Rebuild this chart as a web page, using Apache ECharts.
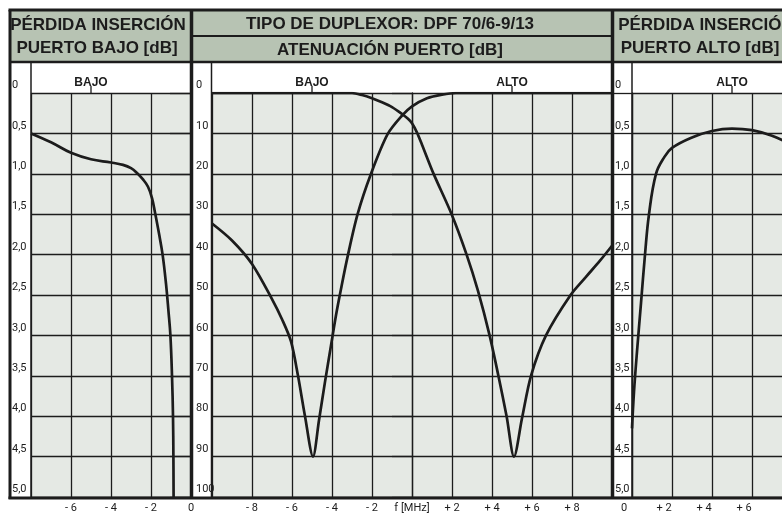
<!DOCTYPE html>
<html><head><meta charset="utf-8">
<script src="https://cdn.jsdelivr.net/npm/echarts@6/dist/echarts.min.js"></script>
<style>html,body{margin:0;padding:0;background:#fff}#c{width:782px;height:518px}</style>
</head><body><div id="c"></div>
<script>
// ---- data ----
const lowLossFreq = [-8, -7, -6, -5, -4, -3.4, -3.0, -2.7, -2.4, -2.15, -1.95, -1.8, -1.6, -1.42, -1.25, -1.13, -1.03, -0.95, -0.9, -0.88, -0.87];
const lowLossDb   = [0.5, 0.61, 0.74, 0.82, 0.86, 0.89, 0.93, 0.99, 1.07, 1.16, 1.3, 1.48, 1.74, 2.0, 2.36, 2.69, 3.0, 3.5, 4.0, 4.5, 5.0];

const attBajoFreq = [-10, -9, -8, -7, -6.5, -6.05, -5.7, -5.35, -4.95, -4.65, -4.35, -4.05, -3.8, -3.55, -3.22, -2.72, -2.05, -1.22, -0.5, 0, 0.75, 1.5, 2.2, 10];
const attBajoDb   = [32.3, 36.5, 42.3, 51, 56, 61.5, 70, 80, 90, 81, 71.5, 62.5, 55, 48.5, 40.5, 30, 20, 10.2, 5.6, 3.3, 1.3, 0.4, 0, 0];

const attAltoFreq = [-10, -3.0, -2.5, -2.0, -1.5, -1.0, -0.5, -0.2, 0, 0.25, 0.5, 1.07, 1.98, 2.73, 3.3, 3.88, 4.32, 4.73, 5.1, 5.5, 5.95, 6.7, 7.93, 8.7, 9.4, 10];
const attAltoDb   = [0, 0, 0.5, 1.3, 2.3, 3.5, 5.2, 6.4, 7.5, 9.8, 12.8, 19.9, 30, 40, 49, 60, 70, 80, 90, 80.5, 70, 60, 50, 45.5, 41.5, 37.8];

const highLossFreq = [0, 0.1, 0.25, 0.45, 0.65, 0.85, 1.2, 1.6, 2, 3, 4, 5, 6, 7, 8];
const highLossDb   = [4.15, 3.7, 3.2, 2.6, 2.0, 1.5, 1.0, 0.8, 0.68, 0.55, 0.47, 0.44, 0.46, 0.53, 0.64];

const lossTickLabels = ['0', '0,5', '1,0', '1,5', '2,0', '2,5', '3,0', '3,5', '4,0', '4,5', '5,0'];
const attTickLabels  = ['0', '10', '20', '30', '40', '50', '60', '70', '80', '90', '100'];
const leftFreqLabels   = {'-6': '- 6', '-4': '- 4', '-2': '- 2', '0': '0'};
const middleFreqLabels = {'-8': '- 8', '-6': '- 6', '-4': '- 4', '-2': '- 2', '0': 'f [MHz]', '2': '+ 2', '4': '+ 4', '6': '+ 6', '8': '+ 8'};
const rightFreqLabels  = {'0': '0', '2': '+ 2', '4': '+ 4', '6': '+ 6'};

const headerLeft  = ['PÉRDIDA INSERCIÓN', 'PUERTO BAJO [dB]'];
const headerMid   = ['TIPO DE DUPLEXOR: DPF 70/6-9/13', 'ATENUACIÓN PUERTO [dB]'];
const headerRight = ['PÉRDIDA INSERCIÓN', 'PUERTO ALTO [dB]'];
const bandLabels = [{axis: 0, x: -5, text: 'BAJO'}, {axis: 1, x: -5, text: 'BAJO'}, {axis: 1, x: 5, text: 'ALTO'}, {axis: 2, x: 5, text: 'ALTO'}];

// ---- styles ----
const INK = '#1c1c1c';
const HEAD = '#b7c3b3';
const CELL = '#e5e9e4';
const GRID_LINE = {color: INK, width: 1.3};
const zip = (a, b) => a.map((v, i) => [v, b[i]]);

const gTop = 93, gH = 404;
const grids = [
  {left: 31, top: gTop, width: 160, height: gH},
  {left: 212, top: gTop, width: 400, height: gH},
  {left: 632, top: gTop, width: 160, height: gH}
].map(o => Object.assign({show: true, backgroundColor: CELL, borderWidth: 0, containLabel: false, outerBoundsMode: 'none'}, o));

function xAx(i, min, max, map, shift) {
  return {
    type: 'value', gridIndex: i, min, max, interval: 2,
    axisLine: {show: false}, axisTick: {show: false},
    splitLine: {show: true, lineStyle: GRID_LINE},
    axisLabel: {
      margin: 6, color: INK, fontSize: 11, fontFamily: 'Roboto',
      showMinLabel: true, showMaxLabel: true, hideOverlap: false,
      formatter: v => { const t = map[String(v)]; return t === undefined ? '' : (shift ? '{s|' + t + '}' : t); },
      rich: shift ? {s: {padding: [0, shift, 0, 0], fontSize: 11, fontFamily: 'Roboto', color: INK}} : undefined
    }
  };
}
function yAx(i, max, interval, labels, margin, tickLen) {
  return {
    type: 'value', gridIndex: i, inverse: true, min: 0, max, interval,
    axisLine: {show: true, lineStyle: GRID_LINE},
    axisTick: {show: true, length: tickLen, lineStyle: GRID_LINE},
    splitLine: {show: true, lineStyle: GRID_LINE},
    axisLabel: {
      align: 'left', verticalAlign: 'bottom', margin, padding: [0, 0, 2, 0],
      color: INK, fontSize: 11, fontFamily: 'Roboto', hideOverlap: false,
      formatter: v => labels[Math.round(v / interval)]
    }
  };
}

const lineStyle = {color: INK, width: 2.7};
const chart = echarts.init(document.getElementById('c'), null, {renderer: 'canvas'});
chart.setOption({
  backgroundColor: '#ffffff',
  animation: false,
  grid: grids,
  xAxis: [xAx(0, -8, 0, leftFreqLabels), xAx(1, -10, 10, middleFreqLabels), xAx(2, 0, 8, rightFreqLabels, 16)],
  yAxis: [yAx(0, 5, 0.5, lossTickLabels, 19, 21), yAx(1, 100, 10, attTickLabels, 16, 20), yAx(2, 5, 0.5, lossTickLabels, 17, 20)],
  series: [
    {type: 'line', xAxisIndex: 0, yAxisIndex: 0, data: zip(lowLossFreq, lowLossDb), smooth: 0.4, symbol: 'none', lineStyle, z: 5},
    {type: 'line', xAxisIndex: 1, yAxisIndex: 1, data: zip(attBajoFreq, attBajoDb), smooth: 0.3, symbol: 'none', lineStyle, z: 5},
    {type: 'line', xAxisIndex: 1, yAxisIndex: 1, data: zip(attAltoFreq, attAltoDb), smooth: 0.3, symbol: 'none', lineStyle, z: 5},
    {type: 'line', xAxisIndex: 2, yAxisIndex: 2, data: zip(highLossFreq, highLossDb), smooth: 0.4, symbol: 'none', lineStyle, z: 5}
  ]
});

// ---- frame, headers and band labels ----
const els = [];
const line = (x1, y1, x2, y2, w) => els.push({type: 'line', z: 100, shape: {x1, y1, x2, y2}, style: {stroke: INK, lineWidth: w}});
const rect = (x, y, width, height, fill) => els.push({type: 'rect', z: 1, shape: {x, y, width, height}, style: {fill}});
const text = (x, y, t, font) => els.push({type: 'text', z: 110, x, y, style: {text: t, fill: INK, font, textAlign: 'center', textVerticalAlign: 'middle'}});

rect(10, 10, 182, 52, HEAD);
rect(192, 10, 421, 52, HEAD);
rect(613, 10, 190, 52, HEAD);
const HF = 'bold 17px "Liberation Sans", Arial, sans-serif';
text(98, 25, headerLeft[0], HF); text(97, 48, headerLeft[1], HF);
text(390, 24, headerMid[0], HF); text(390, 50, headerMid[1], HF);
text(706, 25, headerRight[0], HF); text(700, 48, headerRight[1], HF);

line(8.5, 10, 800, 10, 3);
line(10, 10, 10, 499, 3);
line(191.5, 10, 191.5, 499, 3.5);
line(612.5, 10, 612.5, 499, 3.5);
line(192, 36, 612, 36, 2);
line(10, 62, 800, 62, 2.5);
line(8.5, 498, 800, 498, 3);
line(31, 62, 31, 497, 1.5);
line(211.5, 62, 211.5, 497, 1.5);
line(632, 62, 632, 497, 1.5);

bandLabels.forEach(b => {
  const px = chart.convertToPixel({xAxisIndex: b.axis}, b.x);
  line(px, 86, px, 93, 1.3);
  text(px, 83, b.text, 'bold 12px "Liberation Sans", Arial, sans-serif');
});
chart.setOption({graphic: els});
</script></body></html>
